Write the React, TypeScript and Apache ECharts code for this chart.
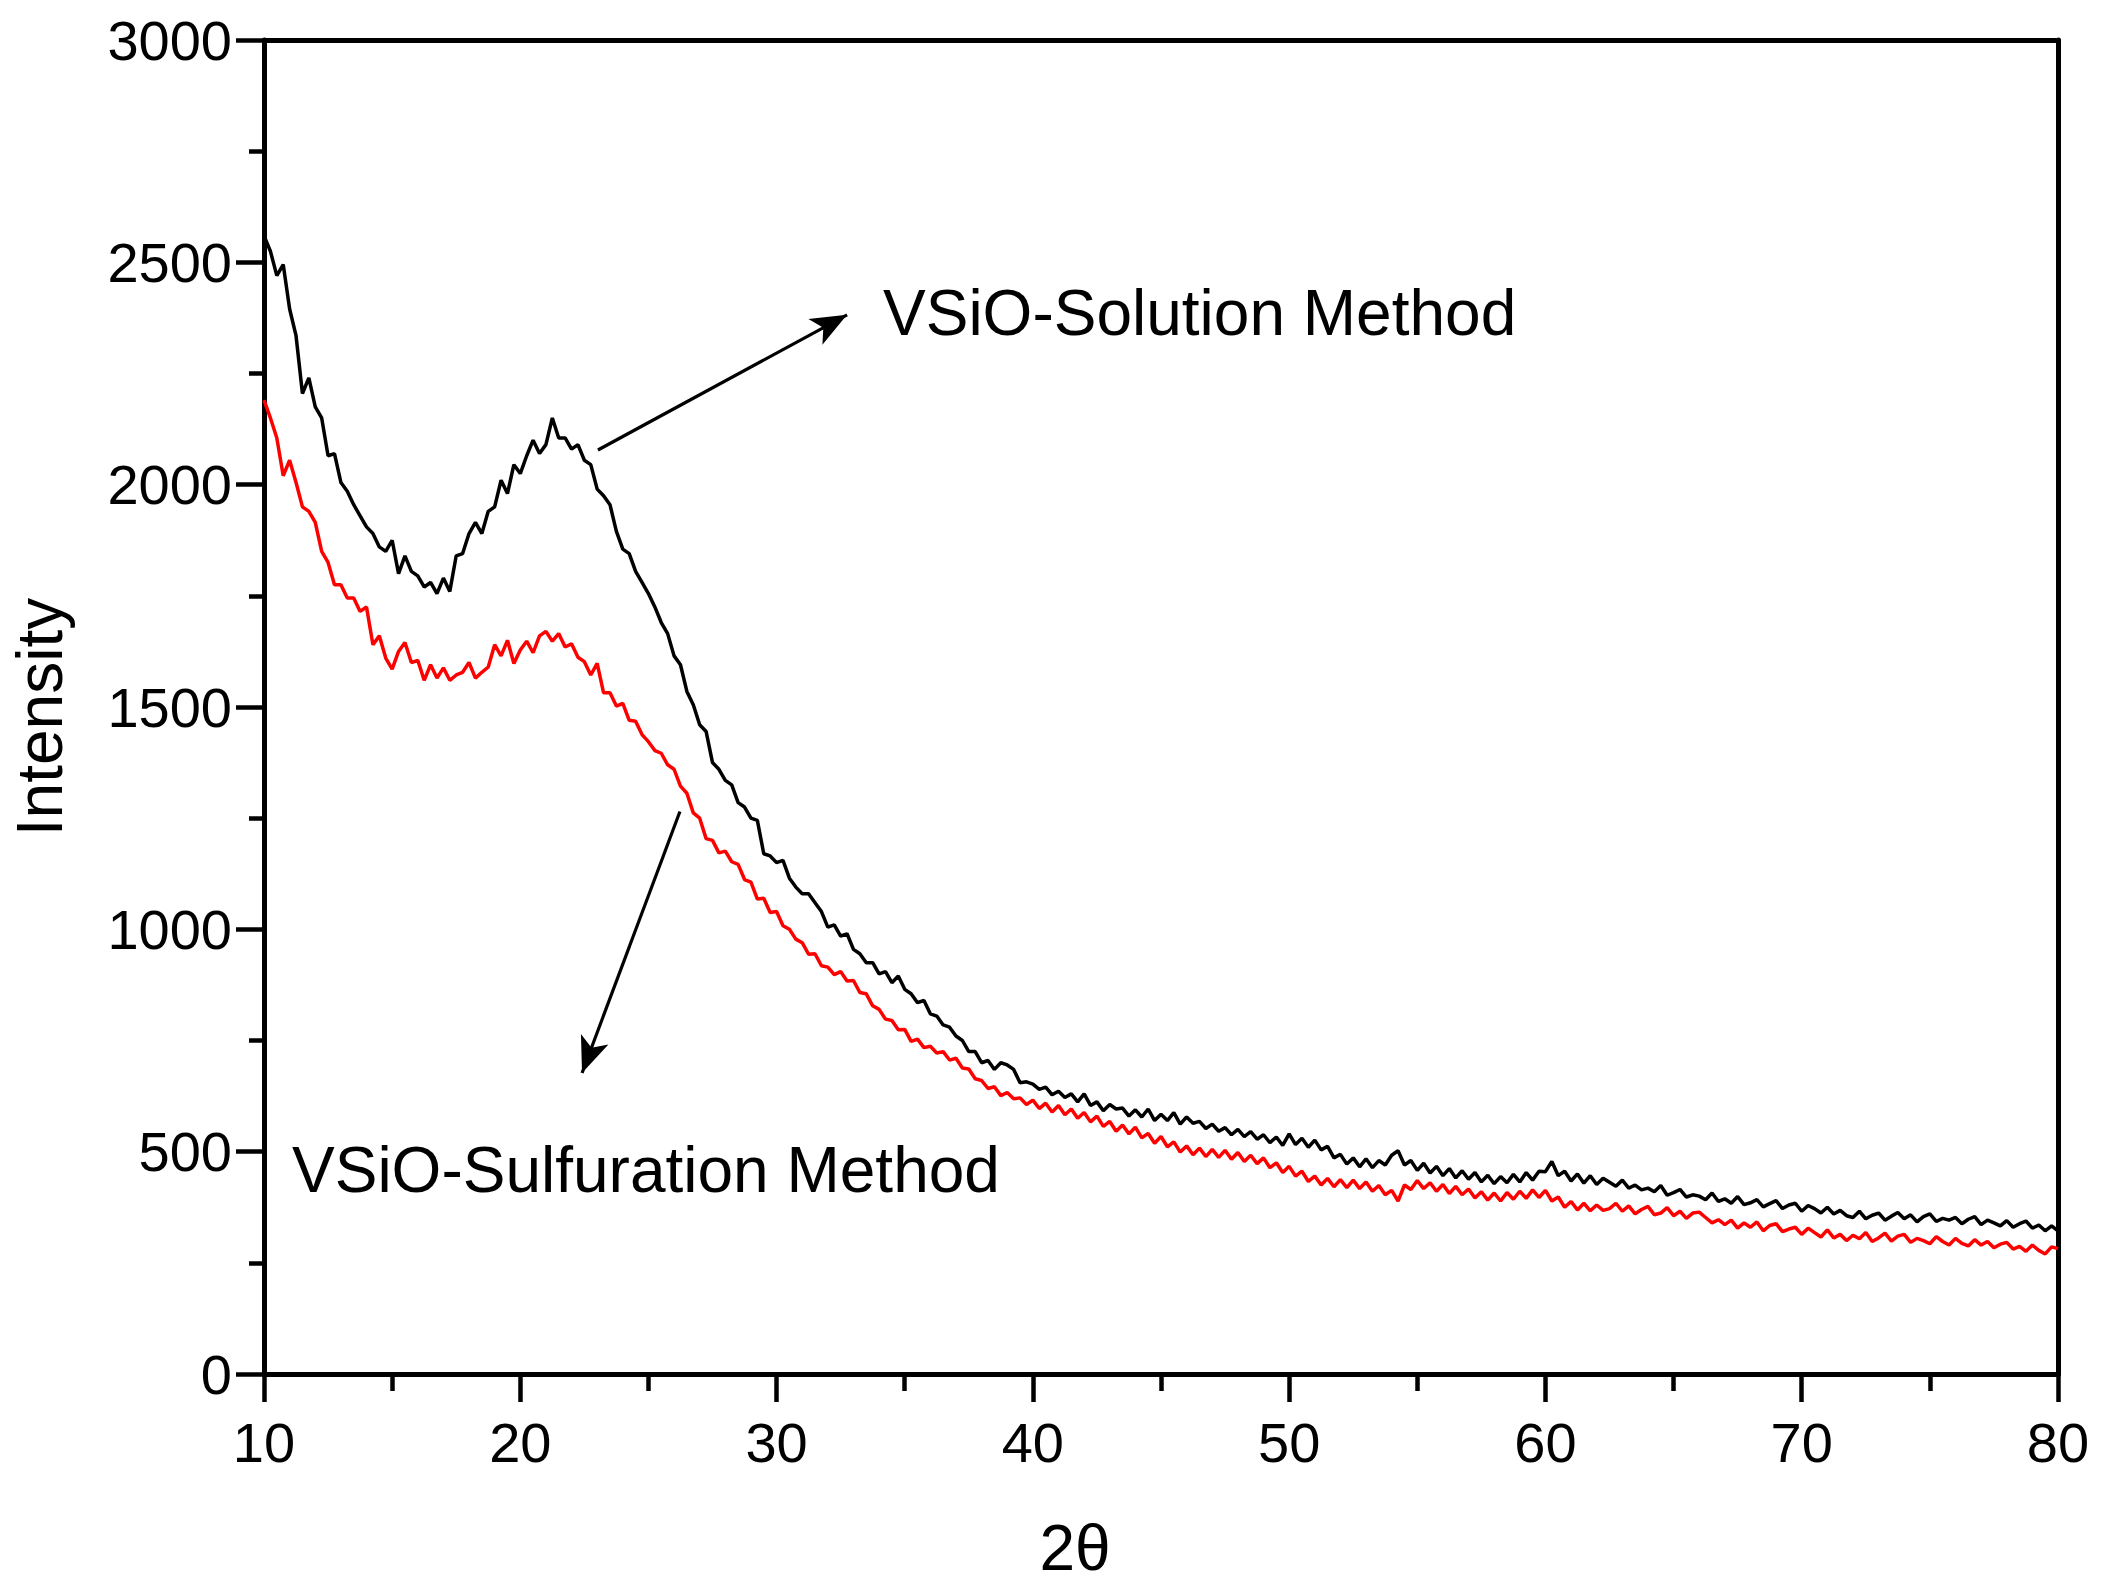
import React, { useEffect, useRef } from "react";
import * as echarts from "echarts";

const X_START = 10;
const X_STEP = 0.25;

const SOLUTION = [
  2560, 2525, 2470, 2495, 2395, 2335, 2205, 2240, 2175, 2150, 2065, 2070,
  2005, 1985, 1955, 1930, 1905, 1890, 1860, 1850, 1875, 1800, 1840, 1805,
  1795, 1770, 1780, 1755, 1790, 1760, 1840, 1845, 1890, 1915, 1890, 1940,
  1950, 2010, 1980, 2045, 2025, 2065, 2100, 2070, 2090, 2150, 2105, 2105,
  2080, 2090, 2055, 2045, 1990, 1975, 1955, 1895, 1855, 1845, 1805, 1780,
  1755, 1725, 1690, 1665, 1615, 1595, 1535, 1505, 1460, 1445, 1375, 1360,
  1335, 1325, 1285, 1275, 1250, 1245, 1170, 1165, 1150, 1155, 1115, 1095,
  1080, 1080, 1060, 1040, 1005, 1010, 985, 990, 955, 945, 925, 925,
  900, 905, 880, 895, 865, 855, 835, 840, 810, 805, 785, 780,
  760, 750, 725, 725, 700, 705, 685, 700, 695, 685, 655, 657,
  652, 640, 645, 628, 636, 622, 630, 612, 630, 604, 612, 592,
  606, 596, 598, 580, 594, 578, 596, 570, 584, 570, 588, 562,
  578, 564, 568, 552, 562, 546, 554, 538, 550, 534, 545, 528,
  538, 520, 533, 514, 540, 516, 530, 510, 526, 504, 512, 486,
  494, 472, 486, 466, 484, 464, 480, 470, 492, 502, 470, 480,
  458, 474, 452, 467, 446, 462, 441, 457, 438, 453, 432, 447,
  428, 444, 430, 449, 432, 453, 436, 456, 455, 478, 446, 456,
  434, 450, 429, 446, 426, 440, 431, 422, 436, 418, 425, 414,
  418, 410, 424, 402, 408, 415, 398, 403, 400, 392, 407, 388,
  394, 384, 399, 381, 385, 392, 376, 383, 390, 372, 380, 384,
  366, 379, 372, 362, 375, 360, 368, 356, 352, 366, 349, 357,
  362, 346, 355, 363, 349, 358, 342, 354, 360, 343, 350, 346,
  352, 338, 348, 354, 336, 346, 340, 333, 345, 330, 338, 344,
  328, 335, 322, 333, 322,
];

const SULFURATION = [
  2190, 2150, 2105, 2020, 2055, 2005, 1950, 1940, 1915, 1850, 1825, 1775,
  1775, 1745, 1745, 1715, 1725, 1640, 1660, 1610, 1585, 1625, 1645, 1600,
  1605, 1560, 1595, 1565, 1588, 1560, 1572, 1578, 1600, 1565, 1578, 1590,
  1640, 1615, 1650, 1598, 1628, 1648, 1622, 1660, 1670, 1648, 1665, 1635,
  1642, 1612, 1602, 1572, 1598, 1532, 1532, 1502, 1508, 1470, 1468, 1438,
  1422, 1402, 1396, 1370, 1360, 1322, 1306, 1262, 1250, 1204, 1200, 1172,
  1176, 1152, 1146, 1112, 1106, 1068, 1070, 1038, 1040, 1008, 1000, 978,
  970, 944, 945, 918, 915, 898, 905, 884, 885, 858, 855, 828,
  820, 798, 795, 774, 775, 748, 753, 734, 737, 722, 725, 706,
  710, 688, 686, 664, 660, 642, 646, 626, 633, 619, 621, 606,
  616, 597, 609, 589, 604, 583, 596, 575, 588, 567, 580, 557,
  568, 546, 560, 540, 555, 531, 541, 519, 534, 511, 522, 499,
  513, 493, 508, 489, 505, 487, 503, 483, 498, 478, 492, 473,
  486, 464, 475, 453, 467, 445, 456, 433, 445, 425, 440, 421,
  437, 419, 436, 417, 432, 411, 424, 403, 413, 389, 425, 415,
  435, 417, 430, 411, 426, 406, 422, 403, 416, 396, 410, 391,
  407, 389, 408, 393, 411, 395, 414, 397, 413, 389, 398, 375,
  388, 369, 384, 367, 380, 368, 372, 384, 366, 378, 360, 370,
  377, 358, 362, 374, 356, 366, 350, 362, 364, 352, 340, 347,
  336, 346, 328, 340, 330, 342, 322, 334, 338, 320, 326, 330,
  314, 328, 318, 308, 324, 306, 314, 300, 312, 304, 318, 298,
  306, 317, 299, 310, 314, 296, 305, 300, 293, 309, 298, 290,
  305, 294, 288, 302, 290, 298, 284, 292, 296, 281, 287, 276,
  290, 278, 270, 286, 282,
];

const X_TICKS = [10, 20, 30, 40, 50, 60, 70, 80];
const Y_TICKS = [0, 500, 1000, 1500, 2000, 2500, 3000];

const SOLUTION_LABEL = "VSiO-Solution Method";
const SULFURATION_LABEL = "VSiO-Sulfuration Method";
const SOLUTION_ARROW = [
  [23.03, 2078],
  [32.75, 2382],
];
const SULFURATION_ARROW = [
  [26.23, 1265],
  [22.41, 677],
];

const FONT = "'Liberation Sans', Arial, sans-serif";

function toPairs(values: number[]) {
  return values.map((v, i) => [X_START + i * X_STEP, v]);
}

export default function App() {
  const ref = useRef<HTMLDivElement>(null);

  useEffect(() => {
    if (!ref.current) return;
    const chart = echarts.init(ref.current, undefined, { renderer: "svg" });

    const axisLine = { show: true, onZero: false, lineStyle: { color: "#000", width: 5 } };
    const tickStyle = { color: "#000", width: 4.5 };
    const arrowLine = (pts: number[][]) => ({
      silent: true,
      symbol: ["none", "arrow"],
      symbolSize: [22, 36],
      label: { show: false },
      lineStyle: { color: "#000", width: 3.2, type: "solid" },
      emphasis: { disabled: true },
      data: [[{ coord: pts[0] }, { coord: pts[1] }]],
    });

    chart.setOption({
      animation: false,
      backgroundColor: "#fff",
      grid: { left: 264, top: 40, right: 44, bottom: 213, containLabel: false },
      xAxis: [
        {
          type: "value",
          min: X_TICKS[0],
          max: X_TICKS[X_TICKS.length - 1],
          interval: 10,
          axisLine,
          axisTick: { show: true, length: 28, lineStyle: tickStyle },
          minorTick: { show: true, splitNumber: 2, length: 17, lineStyle: tickStyle },
          splitLine: { show: false },
          axisLabel: {
            color: "#000",
            fontSize: 56,
            fontFamily: FONT,
            margin: 40,
            formatter: (v: number) => String(v),
          },
        },
        {
          type: "value",
          position: "top",
          min: X_TICKS[0],
          max: X_TICKS[X_TICKS.length - 1],
          axisLine,
          axisTick: { show: false },
          axisLabel: { show: false },
          splitLine: { show: false },
        },
      ],
      yAxis: [
        {
          type: "value",
          min: Y_TICKS[0],
          max: Y_TICKS[Y_TICKS.length - 1],
          interval: 500,
          axisLine,
          axisTick: { show: true, length: 28, lineStyle: tickStyle },
          minorTick: { show: true, splitNumber: 2, length: 15, lineStyle: tickStyle },
          splitLine: { show: false },
          axisLabel: {
            color: "#000",
            fontSize: 56,
            fontFamily: FONT,
            margin: 32,
            formatter: (v: number) => String(v),
          },
        },
        {
          type: "value",
          position: "right",
          min: Y_TICKS[0],
          max: Y_TICKS[Y_TICKS.length - 1],
          axisLine,
          axisTick: { show: false },
          axisLabel: { show: false },
          splitLine: { show: false },
        },
      ],
      series: [
        {
          name: SOLUTION_LABEL,
          type: "line",
          data: toPairs(SOLUTION),
          showSymbol: false,
          symbol: "none",
          lineStyle: { color: "#000", width: 3.5 },
          markLine: arrowLine(SOLUTION_ARROW),
        },
        {
          name: SULFURATION_LABEL,
          type: "line",
          data: toPairs(SULFURATION),
          showSymbol: false,
          symbol: "none",
          lineStyle: { color: "#ff0000", width: 3.5 },
          markLine: arrowLine(SULFURATION_ARROW),
        },
      ],
      graphic: [
        {
          type: "text",
          x: 40,
          y: 717,
          rotation: Math.PI / 2,
          style: {
            text: "Intensity",
            fontSize: 64,
            fontFamily: FONT,
            fill: "#000",
            align: "center",
            verticalAlign: "middle",
          },
        },
        {
          type: "text",
          x: 1075,
          y: 1548,
          style: {
            text: "2θ",
            fontSize: 64,
            fontFamily: FONT,
            fill: "#000",
            align: "center",
            verticalAlign: "middle",
          },
        },
        {
          type: "text",
          x: 883,
          y: 313,
          style: {
            text: SOLUTION_LABEL,
            fontSize: 64,
            fontFamily: FONT,
            fill: "#000",
            align: "left",
            verticalAlign: "middle",
          },
        },
        {
          type: "text",
          x: 292,
          y: 1170,
          style: {
            text: SULFURATION_LABEL,
            fontSize: 64,
            fontFamily: FONT,
            fill: "#000",
            align: "left",
            verticalAlign: "middle",
          },
        },
      ],
    });

    return () => chart.dispose();
  }, []);

  return (
    <div
      ref={ref}
      style={{ position: "fixed", left: 0, top: 0, width: "2102px", height: "1587px" }}
    />
  );
}
